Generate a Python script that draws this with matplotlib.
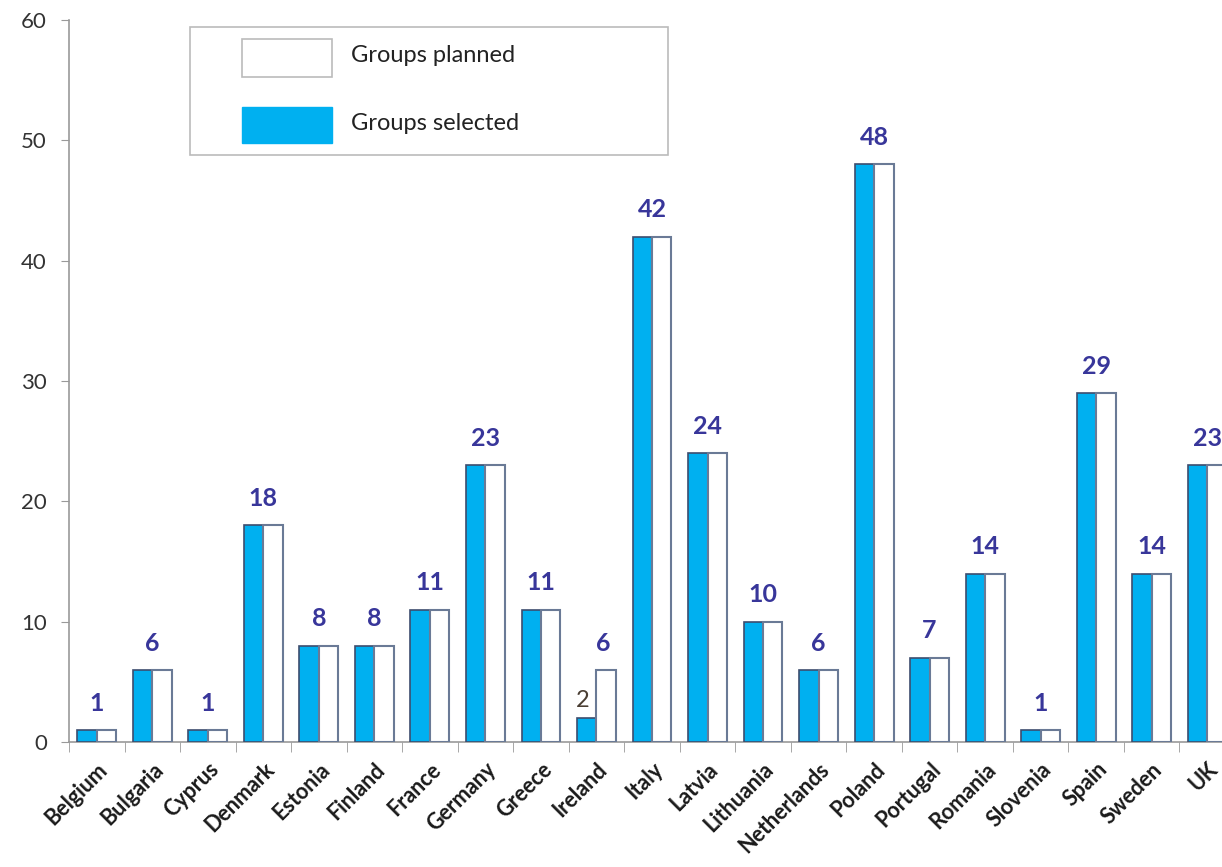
import matplotlib
matplotlib.use("Agg")
import matplotlib.pyplot as plt
from matplotlib.patches import Rectangle
import numpy as np

plt.rcParams['font.family'] = ['Liberation Sans Narrow', 'Lato', 'DejaVu Sans']

countries = ["Belgium", "Bulgaria", "Cyprus", "Denmark", "Estonia", "Finland", "France",
             "Germany", "Greece", "Ireland", "Italy", "Latvia", "Lithuania", "Netherlands",
             "Poland", "Portugal", "Romania", "Slovenia", "Spain", "Sweden", "UK"]
selected = [1, 6, 1, 18, 8, 8, 11, 23, 11, 2, 42, 24, 10, 6, 48, 7, 14, 1, 29, 14, 23]
planned = [1, 6, 1, 18, 8, 8, 11, 23, 11, 6, 42, 24, 10, 6, 48, 7, 14, 1, 29, 14, 23]
yticks = [0, 10, 20, 30, 40, 50, 60]

W, H = 1222, 867
fig = plt.figure(figsize=(W / 100, H / 100), dpi=100)
ax = fig.add_axes([69 / W, 125 / H, 1166 / W, 722 / H])

x = np.arange(len(countries))
bw = 0.35
blue = "#00B0F0"
ax.bar(x - bw / 2, selected, bw, color=blue, edgecolor="#3d4d6e", linewidth=1.2, zorder=3)
ax.bar(x + bw / 2, planned, bw, color="white", edgecolor="#6a7a96", linewidth=1.5, zorder=3)

for i in range(len(countries)):
    if selected[i] != planned[i]:
        ax.annotate(str(selected[i]), (x[i] - bw / 2, selected[i]), xytext=(-3, 5),
                    textcoords="offset points", ha="center", va="bottom",
                    fontsize=17, color="#4a3e33")
        ax.annotate(str(planned[i]), (x[i] + bw / 2, planned[i]), xytext=(-2, 11),
                    textcoords="offset points", ha="center", va="bottom",
                    fontsize=18, fontweight="bold", color="#38369a")
    else:
        ax.annotate(str(planned[i]), (x[i], planned[i]), xytext=(0, 11),
                    textcoords="offset points", ha="center", va="bottom",
                    fontsize=18, fontweight="bold", color="#38369a")

ax.set_xlim(-0.5, len(countries) - 0.5)
ax.set_ylim(0, 60)
ax.set_yticks(yticks)
ax.set_yticklabels([str(v) for v in yticks], fontsize=16, color="#333333")
ax.tick_params(axis="y", length=6, color="#999999", pad=10)

ax.set_xticks(x)
ax.set_xticklabels(countries, rotation=45, ha="right", rotation_mode="anchor",
                   fontsize=15.5, fontweight="bold", color="#1a1a1a")
ax.tick_params(axis="x", length=0, pad=12)
ax.set_xticks(np.arange(len(countries) + 1) - 0.5, minor=True)
ax.tick_params(axis="x", which="minor", length=7, color="#999999")

for s in ["top", "right"]:
    ax.spines[s].set_visible(False)
ax.spines["left"].set_color("#999999")
ax.spines["bottom"].set_color("#999999")
ax.spines["left"].set_linewidth(1.2)
ax.spines["bottom"].set_linewidth(1.2)

# legend box
tf = fig.transFigure
def fx(px):
    return px / W
def fy(py):
    return 1 - py / H
fig.patches.append(Rectangle((fx(190), fy(155)), fx(668) - fx(190), fy(27) - fy(155),
                             transform=tf, facecolor="white", edgecolor="#bbbbbb", linewidth=1.2))
fig.patches.append(Rectangle((fx(242), fy(77)), fx(332) - fx(242), fy(39) - fy(77),
                             transform=tf, facecolor="white", edgecolor="#bbbbbb", linewidth=1.2))
fig.patches.append(Rectangle((fx(242), fy(143)), fx(332) - fx(242), fy(107) - fy(143),
                             transform=tf, facecolor=blue, edgecolor=blue, linewidth=1.0))
fig.text(fx(351), fy(55), "Groups planned", fontsize=17, color="#222222", va="center", ha="left")
fig.text(fx(351), fy(124), "Groups selected", fontsize=17, color="#222222", va="center", ha="left")

fig.savefig("out.png", dpi=100)
